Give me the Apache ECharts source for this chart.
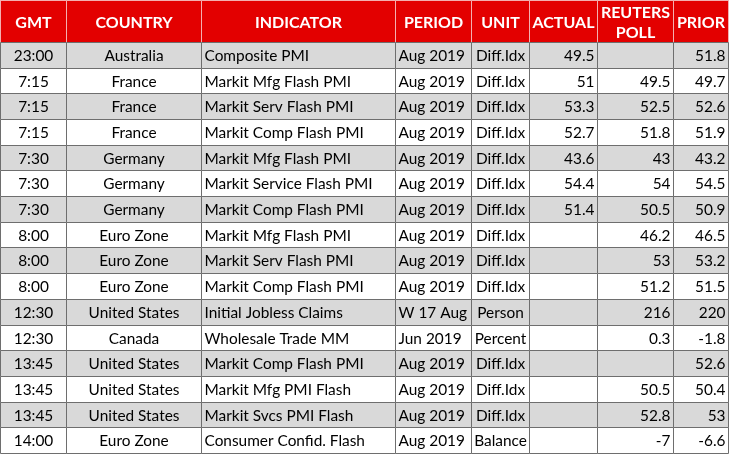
<!DOCTYPE html>
<html>
<head>
<meta charset="utf-8">
<script src="https://cdn.jsdelivr.net/npm/echarts@6/dist/echarts.min.js"></script>
<style>
html, body { margin: 0; padding: 0; background: #fff; }
#chart { width: 730px; height: 454px; }
</style>
</head>
<body>
<div id="chart"></div>
<script>
const headers = ['GMT', 'COUNTRY', 'INDICATOR', 'PERIOD', 'UNIT', 'ACTUAL', 'REUTERS\nPOLL', 'PRIOR']
const gmt = ['23:00', '7:15', '7:15', '7:15', '7:30', '7:30', '7:30', '8:00', '8:00', '8:00', '12:30', '12:30', '13:45', '13:45', '13:45', '14:00']
const country = ['Australia', 'France', 'France', 'France', 'Germany', 'Germany', 'Germany', 'Euro Zone', 'Euro Zone', 'Euro Zone',
    'United States', 'Canada', 'United States', 'United States', 'United States', 'Euro Zone']
const indicator = ['Composite PMI', 'Markit Mfg Flash PMI', 'Markit Serv Flash PMI', 'Markit Comp Flash PMI',
    'Markit Mfg Flash PMI', 'Markit Service Flash PMI', 'Markit Comp Flash PMI',
    'Markit Mfg Flash PMI', 'Markit Serv Flash PMI', 'Markit Comp Flash PMI',
    'Initial Jobless Claims', 'Wholesale Trade MM', 'Markit Comp Flash PMI', 'Markit Mfg PMI Flash',
    'Markit Svcs PMI Flash', 'Consumer Confid. Flash']
const period = ['Aug 2019', 'Aug 2019', 'Aug 2019', 'Aug 2019', 'Aug 2019', 'Aug 2019', 'Aug 2019', 'Aug 2019', 'Aug 2019', 'Aug 2019',
    'W 17 Aug', 'Jun 2019', 'Aug 2019', 'Aug 2019', 'Aug 2019', 'Aug 2019']
const unit = ['Diff.Idx', 'Diff.Idx', 'Diff.Idx', 'Diff.Idx', 'Diff.Idx', 'Diff.Idx', 'Diff.Idx', 'Diff.Idx', 'Diff.Idx', 'Diff.Idx',
    'Person', 'Percent', 'Diff.Idx', 'Diff.Idx', 'Diff.Idx', 'Balance']
const actual = [49.5, 51, 53.3, 52.7, 43.6, 54.4, 51.4, null, null, null, null, null, null, null, null, null]
const poll = [null, 49.5, 52.5, 51.8, 43, 54, 50.5, 46.2, 53, 51.2, 216, 0.3, null, 50.5, 52.8, -7]
const prior = [51.8, 49.7, 52.6, 51.9, 43.2, 54.5, 50.9, 46.5, 53.2, 51.5, 220, -1.8, 52.6, 50.4, 53, -6.6]

// layout
const colWidths = [66, 135, 194, 76, 58, 68, 76, 55]
const colAlign = ['center', 'center', 'left', 'left', 'center', 'right', 'right', 'right']
const headerHeight = 42
const rowHeight = 25.7

const columns = [gmt, country, indicator, period, unit, actual, poll, prior]
const colEdges = [0]
colWidths.forEach(w => colEdges.push(colEdges[colEdges.length - 1] + w))
const totalWidth = colEdges[colEdges.length - 1]
const totalHeight = headerHeight + gmt.length * rowHeight

function rowTop (r) {
    return r === 0 ? 0 : headerHeight + (r - 1) * rowHeight
}
function rowBottom (r) {
    return r === 0 ? headerHeight : rowTop(r) + rowHeight
}

// cells: [col, row], row 0 is the header
let cells = []
headers.forEach((h, c) => cells.push({ value: [c, 0], text: h }))
for (let r = 0; r < gmt.length; r++) {
    columns.forEach((col, c) => {
        const v = col[r]
        cells.push({ value: [c, r + 1], text: v === null ? '' : String(v) })
    })
}

function renderCell (params, api) {
    const c = api.value(0), r = api.value(1)
    const p0 = api.coord([colEdges[c], rowTop(r)])
    const p1 = api.coord([colEdges[c + 1], rowBottom(r)])
    const x0 = Math.round(p0[0]) + 0.5, y0 = Math.round(p0[1]) + 0.5
    const x1 = Math.round(p1[0]) + 0.5, y1 = Math.round(p1[1]) + 0.5
    const text = cells[params.dataIndex].text
    const isHeader = r === 0
    const fill = isHeader ? '#e30000' : (r % 2 === 1 ? '#d9d9d9' : '#ffffff')
    const align = isHeader ? 'center' : colAlign[c]
    let tx = (x0 + x1) / 2
    if (align === 'left') tx = x0 + 3
    if (align === 'right') tx = x1 - 3
    return {
        type: 'group',
        children: [{
            type: 'rect',
            shape: { x: x0, y: y0, width: x1 - x0, height: y1 - y0 },
            style: {
                fill: fill,
                stroke: isHeader ? '#f3b0b0' : '#6e6e6e',
                lineWidth: 1
            }
        }, {
            type: 'text',
            x: tx,
            y: (y0 + y1) / 2 + 1,
            style: {
                text: text,
                fill: isHeader ? '#ffffff' : '#000000',
                font: isHeader ? 'bold 16px Lato' : '15.4px Lato',
                lineHeight: 20,
                align: align,
                verticalAlign: 'middle'
            }
        }]
    }
}

const myChart = echarts.init(document.getElementById('chart'))
myChart.setOption({
    animation: false,
    grid: { left: 0, top: 0, width: totalWidth, height: Math.round(totalHeight) },
    xAxis: { type: 'value', min: 0, max: totalWidth, show: false },
    yAxis: { type: 'value', min: 0, max: totalHeight, inverse: true, show: false },
    series: [{
        type: 'custom',
        renderItem: renderCell,
        data: cells,
        silent: true
    }]
})
</script>
</body>
</html>
